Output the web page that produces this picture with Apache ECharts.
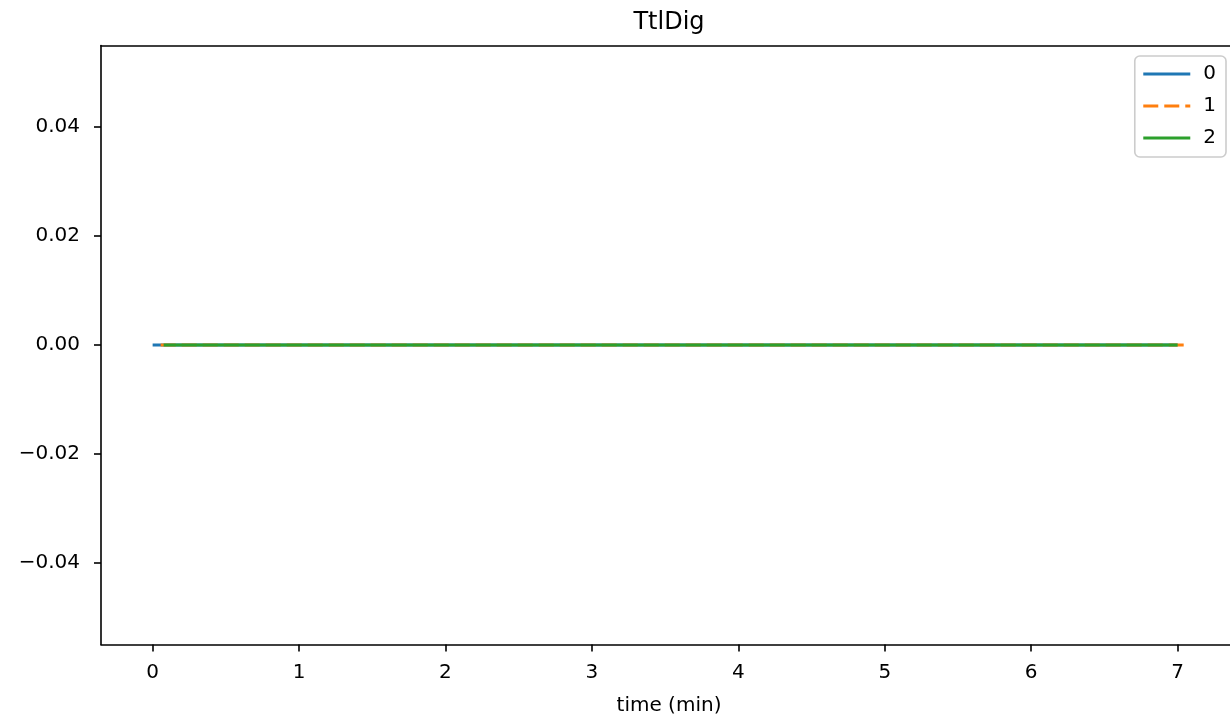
<!DOCTYPE html>
<html>
<head>
<meta charset="utf-8">
<script src="https://cdn.jsdelivr.net/npm/echarts@6/dist/echarts.min.js"></script>
<style>
html,body{margin:0;padding:0;background:#fff;}
#chart{width:1230px;height:721px;}
</style>
</head>
<body>
<div id="chart"></div>
<script>
// ---- data ----
const seriesNames = ['0', '1', '2'];
const time0 = [0.0, 1.0, 2.0, 3.0, 4.0, 5.0, 6.0, 7.0];
const vals0 = [0, 0, 0, 0, 0, 0, 0, 0];
const time1 = [0.055, 1.0, 2.0, 3.0, 4.0, 5.0, 6.0, 7.053];
const vals1 = [0, 0, 0, 0, 0, 0, 0, 0];
const time2 = [0.075, 1.0, 2.0, 3.0, 4.0, 5.0, 6.0, 7.0];
const vals2 = [0, 0, 0, 0, 0, 0, 0, 0];
const xTicks = [0, 1, 2, 3, 4, 5, 6, 7];
const yTicks = [-0.04, -0.02, 0.0, 0.02, 0.04];

const colors = ['#1f77b4', '#ff7f0e', '#2ca02c'];
const FONT = 'DejaVu Sans';

function pairs(t, v) { return t.map((x, i) => [x, v[i]]); }

const chart = echarts.init(document.getElementById('chart'), null, {renderer: 'canvas'});
const axisCommon = {
  axisLine: {show: true, onZero: false, lineStyle: {color: '#000', width: 1.6}},
  axisTick: {show: true, inside: false, length: 7, lineStyle: {color: '#000', width: 1.6}},
  splitLine: {show: false},
};
const X_MIN = -0.3526, X_MAX = 7.4056;
chart.setOption({
  animation: false,
  backgroundColor: '#fff',
  title: {
    text: 'TtlDig',
    left: 669, top: 11, textAlign: 'center', padding: 0,
    textStyle: {fontFamily: FONT, fontSize: 24, fontWeight: 'normal', color: '#000'}
  },
  legend: {
    data: seriesNames,
    orient: 'vertical',
    right: 4, top: 56,
    itemWidth: 47, itemHeight: 20, itemGap: 12,
    padding: [8, 10, 9, 7],
    backgroundColor: 'rgba(255,255,255,0.8)',
    borderColor: '#cccccc', borderWidth: 1.6, borderRadius: 5,
    itemStyle: {opacity: 0},
    lineStyle: {width: 3},
    textStyle: {fontFamily: FONT, fontSize: 20, color: '#000', padding: [0, 0, 0, 8]}
  },
  grid: {
    left: 101, top: 45.5, width: 1136, height: 599,
    outerBoundsMode: 'none',
    show: false
  },
  xAxis: [
    Object.assign({}, axisCommon, {
      type: 'value', position: 'bottom',
      min: X_MIN, max: X_MAX,
      name: 'time (min)', nameLocation: 'middle', nameGap: 51,
      nameTextStyle: {fontFamily: FONT, fontSize: 20, color: '#000'},
      axisTick: Object.assign({}, axisCommon.axisTick, {customValues: xTicks}),
      axisLabel: {customValues: xTicks, margin: 18, fontFamily: FONT, fontSize: 20, color: '#000',
        formatter: v => String(Math.round(v))}
    }),
    {
      type: 'value', position: 'top', min: X_MIN, max: X_MAX,
      axisLine: {show: true, onZero: false, lineStyle: {color: '#000', width: 1.6}},
      axisTick: {show: false}, axisLabel: {show: false}, splitLine: {show: false}
    }
  ],
  yAxis: Object.assign({}, axisCommon, {
    type: 'value',
    min: -0.055, max: 0.055,
    axisTick: Object.assign({}, axisCommon.axisTick, {customValues: yTicks}),
    axisLabel: {customValues: yTicks, margin: 21, fontFamily: FONT, fontSize: 20, color: '#000',
      formatter: v => (v < -1e-9 ? '\u2212' : '') + Math.abs(v).toFixed(2)}
  }),
  series: [
    {name: seriesNames[0], type: 'line', data: pairs(time0, vals0), symbol: 'none',
      lineStyle: {color: colors[0], width: 3}, itemStyle: {color: colors[0]}, z: 2},
    {name: seriesNames[1], type: 'line', data: pairs(time1, vals1), symbol: 'none',
      lineStyle: {color: colors[1], width: 3, type: [15, 6]}, itemStyle: {color: colors[1]}, z: 3},
    {name: seriesNames[2], type: 'line', data: pairs(time2, vals2), symbol: 'none',
      lineStyle: {color: colors[2], width: 3}, itemStyle: {color: colors[2]}, z: 4}
  ]
});
</script>
</body>
</html>
